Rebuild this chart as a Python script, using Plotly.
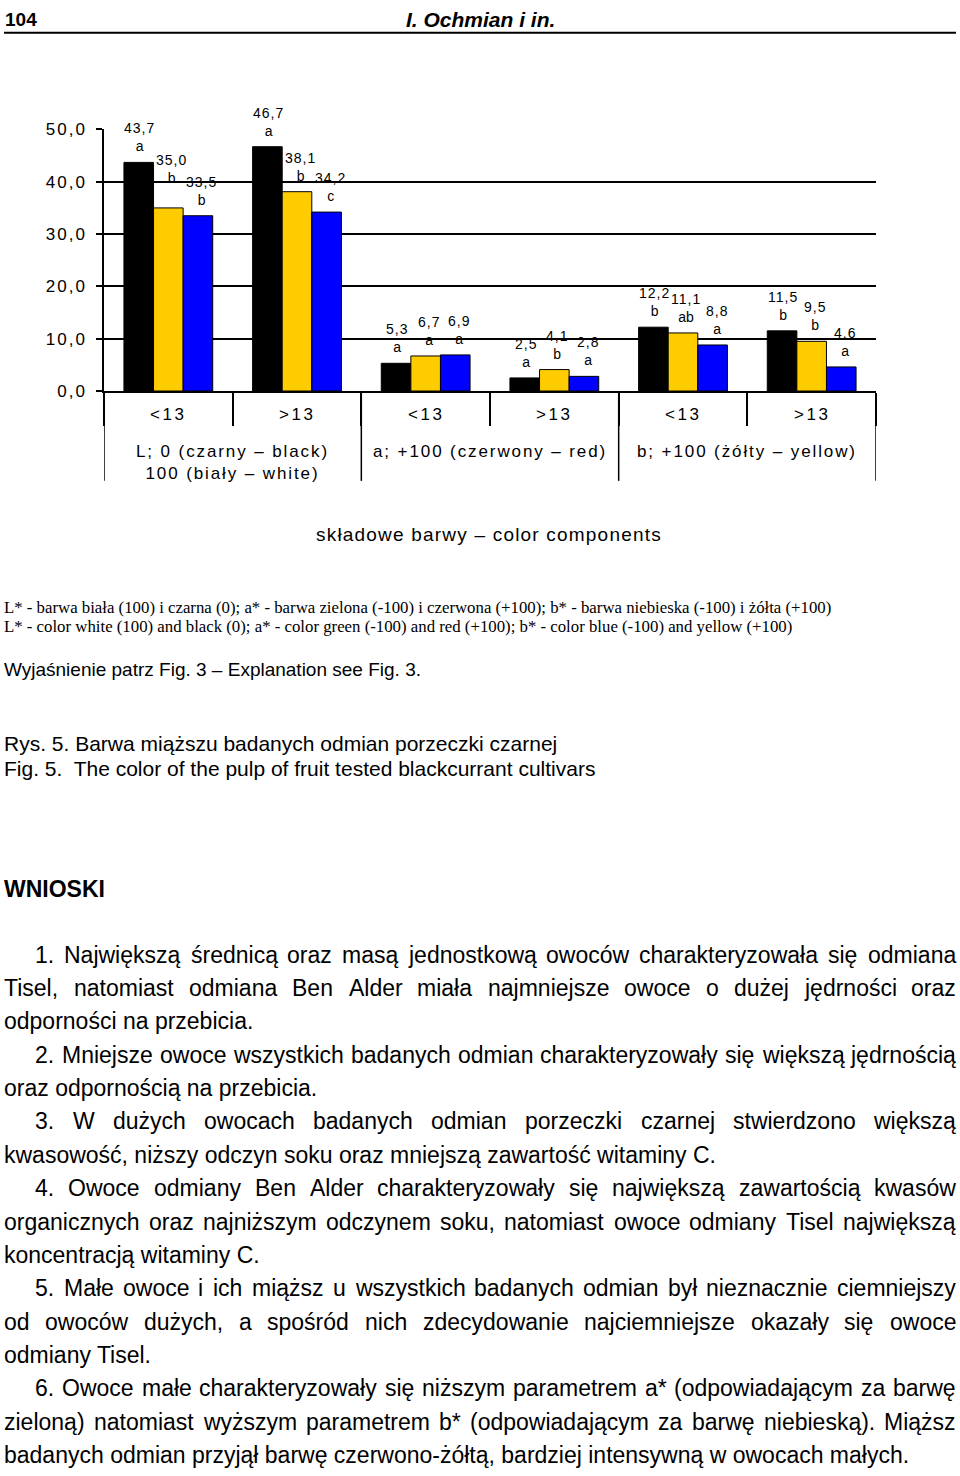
import plotly.graph_objects as go

PAGE_W, PAGE_H = 960, 1476

# ---------------- data ----------------
categories = ["L <13", "L >13", "a <13", "a >13", "b <13", "b >13"]
size_labels = ["&lt;13", "&gt;13", "&lt;13", "&gt;13", "&lt;13", "&gt;13"]
group_labels = ["L; 0 (czarny – black)<br>100 (biały – white)",
                "a; +100 (czerwony – red)",
                "b; +100 (żółty – yellow)"]
black_vals = [43.7, 46.7, 5.3, 2.5, 12.2, 11.5]
yellow_vals = [35.0, 38.1, 6.7, 4.1, 11.1, 9.5]
blue_vals = [33.5, 34.2, 6.9, 2.8, 8.8, 4.6]
black_letters = ["a", "a", "a", "a", "b", "b"]
yellow_letters = ["b", "b", "a", "b", "ab", "b"]
blue_letters = ["b", "c", "a", "a", "a", "a"]
y_ticks = [0, 10, 20, 30, 40, 50]
y_tick_labels = ["0,0", "10,0", "20,0", "30,0", "40,0", "50,0"]

# ---------------- style ----------------
SANS = "Liberation Sans, Arial, sans-serif"
SERIF = "Liberation Serif, Times New Roman, serif"
COLORS = ["#000000", "#FFCC00", "#0000FF"]
BARGAP = 0.31
X0, X1 = 104, 876          # plot area in px
Y_TOP, Y_BOT = 122, 387


def px(x):
    return x / PAGE_W


def py(y):
    return 1 - y / PAGE_H


def ls(text, sp):
    return f'<span style="letter-spacing:{sp}px">{text}</span>'


fig = go.Figure()
series = [(black_vals, black_letters), (yellow_vals, yellow_letters), (blue_vals, blue_letters)]
for k, (vals, _) in enumerate(series):
    fig.add_trace(go.Bar(x=categories, y=vals, name=f"seria {k+1}",
                         marker=dict(color=COLORS[k], line=dict(color="black", width=1)),
                         hoverinfo="skip"))

annotations = []


def ann(x, y, text, size, family=SANS, xanchor="left", yanchor="middle", xref="paper",
        yref="paper", **kw):
    annotations.append(dict(x=x, y=y, xref=xref, yref=yref, text=text, showarrow=False,
                            xanchor=xanchor, yanchor=yanchor, borderpad=0, borderwidth=0,
                            font=dict(family=family, size=size, color="black"), **kw))


# bar value labels
bw = (1 - BARGAP) / 3
label_xshift = [1, 3, 4]
extra_lift = {(1, 0): 14}
for k, (vals, lets) in enumerate(series):
    for i, (v, l) in enumerate(zip(vals, lets)):
        t = f"{v:.1f}".replace(".", ",")
        ann(i + (k - 1) * bw, v, ls(t, 1) + "<br>" + l, 14, xanchor="center",
            yanchor="bottom", xref="x", yref="y",
            xshift=label_xshift[k], yshift=8 + extra_lift.get((k, i), 0))

# category labels
for i, lab in enumerate(size_labels):
    ann(i, py(411), ls(lab, 2.5), 17, xanchor="center", xref="x")
for g, lab in enumerate(group_labels):
    ann(2 * g + 0.5, py(438.5), ls(lab, 1.9), 17, xanchor="center", yanchor="top", xref="x")

shapes = []
for b in [-0.5, 1.5, 3.5, 5.5]:
    shapes.append(dict(type="line", xref="x", yref="paper", x0=b, x1=b,
                       y0=py(Y_BOT), y1=py(478), line=dict(color="black", width=1.5)))
shapes.append(dict(type="line", xref="paper", yref="paper", x0=px(4), x1=px(956),
                   y0=py(24), y1=py(24), line=dict(color="black", width=2)))

# ---------------- page text ----------------
ann(px(5), py(10.5), "<b>104</b>", 19, SANS)
ann(px(480), py(10.5), "<b><i>I. Ochmian i in.</i></b>", 21, SANS, xanchor="center")
ann(px(489), py(532), ls("składowe barwy – color components", 1.2), 19, xanchor="center")
ann(px(4), py(606), "L* - barwa biała (100) i czarna (0); a* - barwa zielona (-100) i czerwona (+100); "
    "b* - barwa niebieska (-100) i żółta (+100)", 16.8, SERIF)
ann(px(4), py(626), "L* - color white (100) and black (0); a* - color green (-100) and red (+100); "
    "b* - color blue (-100) and yellow (+100)", 16.8, SERIF)
ann(px(4), py(669), "Wyjaśnienie patrz Fig. 3 – Explanation see Fig. 3.", 19, SANS)
ann(px(4), py(744), "Rys. 5. Barwa miąższu badanych odmian porzeczki czarnej", 21, SANS)
ann(px(4), py(769), "Fig. 5.\u00a0 The color of the pulp of fruit tested blackcurrant cultivars", 21, SANS)
ann(px(4), py(891), "<b>WNIOSKI</b>", 23, SANS)

# Arial / Liberation Sans advance widths (1/1000 em)
AW = {' ': 278, ',': 278, '.': 278, '-': 333, '*': 389, '(': 333, ')': 333, ':': 278, ';': 278,
      'A': 667, 'B': 667, 'C': 722, 'D': 722, 'E': 667, 'F': 611, 'G': 778, 'H': 722, 'I': 278,
      'J': 500, 'K': 667, 'L': 556, 'M': 833, 'N': 722, 'O': 778, 'P': 667, 'Q': 778, 'R': 722,
      'S': 667, 'T': 611, 'U': 722, 'V': 667, 'W': 944, 'X': 667, 'Y': 667, 'Z': 611,
      'a': 556, 'b': 556, 'c': 500, 'd': 556, 'e': 556, 'f': 278, 'g': 556, 'h': 556, 'i': 222,
      'j': 222, 'k': 500, 'l': 222, 'm': 833, 'n': 556, 'o': 556, 'p': 556, 'q': 556, 'r': 333,
      's': 500, 't': 278, 'u': 556, 'v': 500, 'w': 722, 'x': 500, 'y': 500, 'z': 500,
      'ą': 556, 'ć': 500, 'ę': 556, 'ł': 222, 'ń': 556, 'ó': 556, 'ś': 500, 'ź': 500, 'ż': 500,
      'Ł': 556, 'Ś': 667, 'Ż': 611, 'Ź': 611}
BODY = 23


def tw(s):
    return sum(AW.get(c, 556) for c in s) / 1000 * BODY


body = [
    ("1. Największą średnicą oraz masą jednostkową owoców charakteryzowała się odmiana", True, True),
    ("Tisel, natomiast odmiana Ben Alder miała najmniejsze owoce o dużej jędrności oraz", False, True),
    ("odporności na przebicia.", False, False),
    ("2. Mniejsze owoce wszystkich badanych odmian charakteryzowały się większą jędrnością", True, True),
    ("oraz odpornością na przebicia.", False, False),
    ("3. W dużych owocach badanych odmian porzeczki czarnej stwierdzono większą", True, True),
    ("kwasowość, niższy odczyn soku oraz mniejszą zawartość witaminy C.", False, False),
    ("4. Owoce odmiany Ben Alder charakteryzowały się największą zawartością kwasów", True, True),
    ("organicznych oraz najniższym odczynem soku, natomiast owoce odmiany Tisel największą", False, True),
    ("koncentracją witaminy C.", False, False),
    ("5. Małe owoce i ich miąższ u wszystkich badanych odmian był nieznacznie ciemniejszy", True, True),
    ("od owoców dużych, a spośród nich zdecydowanie najciemniejsze okazały się owoce", False, True),
    ("odmiany Tisel.", False, False),
    ("6. Owoce małe charakteryzowały się niższym parametrem a* (odpowiadającym za barwę", True, True),
    ("zieloną) natomiast wyższym parametrem b* (odpowiadającym za barwę niebieską). Miąższ", False, True),
    ("badanych odmian przyjął barwę czerwono-żółtą, bardziej intensywną w owocach małych.", False, False),
]
LEFT, RIGHT, INDENT = 4, 956, 31
for n, (line, indent, justify) in enumerate(body):
    yy = py(958 + n * 33.8)
    x_left = LEFT + (INDENT if indent else 0)
    if not justify:
        ann(px(x_left), yy, line, BODY, SANS)
        continue
    words = line.split(" ")
    widths = [tw(w) for w in words]
    gap = (RIGHT - x_left - sum(widths)) / (len(words) - 1)
    x = x_left
    for j, w in enumerate(words):
        if j == len(words) - 1:
            ann(px(RIGHT), yy, w, BODY, SANS, xanchor="right")
        else:
            ann(px(x), yy, w, BODY, SANS)
        x += widths[j] + gap

fig.update_layout(
    width=PAGE_W, height=PAGE_H, margin=dict(l=0, r=0, t=0, b=0),
    paper_bgcolor="white", plot_bgcolor="white", showlegend=False,
    barmode="group", bargap=BARGAP, bargroupgap=0,
    annotations=annotations, shapes=shapes,
    xaxis=dict(domain=[px(X0), px(X1)], type="category", categoryorder="array",
               categoryarray=categories, range=[-0.5, 5.5], showticklabels=False,
               ticks="outside", tickson="boundaries", ticklen=33, tickwidth=1.5,
               tickcolor="black", showline=True, linecolor="black", linewidth=1.5,
               showgrid=False, fixedrange=True),
    yaxis=dict(domain=[py(Y_BOT), py(Y_TOP)], range=[0, 50], tickvals=y_ticks,
               ticktext=[ls(t, 2) for t in y_tick_labels], ticks="outside", ticklen=6,
               tickwidth=1.5, tickcolor="black", showgrid=True, gridcolor="black",
               gridwidth=1.5, showline=True, linecolor="black", linewidth=1.5,
               zeroline=False, tickfont=dict(family=SANS, size=17, color="black"),
               ticklabelstandoff=6, fixedrange=True),
)

page_css = ("document.documentElement.style.margin='0px';"
            "document.body.style.margin='0px';"
            "document.body.style.overflow='hidden';")
fig.write_html("out.html", config={"displayModeBar": False}, post_script=page_css)
